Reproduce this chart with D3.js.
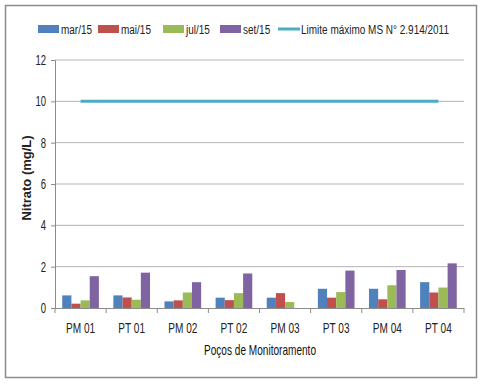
<!DOCTYPE html>
<html>
<head>
<meta charset="utf-8">
<script src="https://cdn.jsdelivr.net/npm/d3@7"></script>
<style>
  body { margin: 0; background: #fff; }
  text { font-family: "Liberation Sans", Arial, sans-serif; fill: #222; }
</style>
</head>
<body>
<div id="chart"></div>
<script>
var categories = ["PM 01", "PT 01", "PM 02", "PT 02", "PM 03", "PT 03", "PM 04", "PT 04"];
var seriesNames = ["mar/15", "mai/15", "jul/15", "set/15"];
var mar15 = [0.61, 0.61, 0.32, 0.50, 0.50, 0.93, 0.93, 1.25];
var mai15 = [0.21, 0.51, 0.37, 0.38, 0.72, 0.50, 0.42, 0.75];
var jul15 = [0.37, 0.40, 0.75, 0.72, 0.29, 0.77, 1.10, 0.99];
var set15 = [1.54, 1.71, 1.25, 1.67, 0, 1.81, 1.84, 2.16];
var limitName = "Limite máximo MS N° 2.914/2011";
var limitValue = 10;
var yTicks = [0, 2, 4, 6, 8, 10, 12];

var colors = ["#4F81BD", "#C0504D", "#9BBB59", "#8064A2"];
var limitColor = "#4BACC6";

var svgWidth = 487;
var svgHeight = 385;
var margin = { top: 60, right: 23, bottom: 77, left: 55 };
var width = 464 - margin.left;
var height = 308 - margin.top;

// the original uses a narrow font: squeeze texts with a horizontal scale
function narrowText(parent, x, y, str, factor) {
  return parent.append("text")
    .attr("transform", `translate(${x}, ${y}) scale(${factor}, 1)`)
    .text(str);
}

var svg = d3.select("#chart")
  .append("svg")
  .attr("width", svgWidth)
  .attr("height", svgHeight);

// outer frame
svg.append("rect")
  .attr("x", 5.5).attr("y", 5.5)
  .attr("width", 471).attr("height", 372)
  .attr("fill", "#fff")
  .attr("stroke", "#8c8c8c")
  .attr("stroke-width", 1.5);

var chartGroup = svg.append("g")
  .attr("transform", `translate(${margin.left}, ${margin.top})`);

var xScale = d3.scaleBand()
  .domain(categories)
  .range([0, width])
  .paddingInner(0.283)
  .paddingOuter(0.1415);

var xSub = d3.scaleBand()
  .domain(seriesNames)
  .range([0, xScale.bandwidth()]);

var yScale = d3.scaleLinear()
  .domain([0, 12])
  .range([height, 0]);

// gridlines
chartGroup.selectAll(".grid")
  .data(yTicks.filter(d => d > 0))
  .enter()
  .append("line")
  .attr("x1", 0).attr("x2", width)
  .attr("y1", d => yScale(d)).attr("y2", d => yScale(d))
  .attr("stroke", "#b3b3b3")
  .attr("stroke-width", 1);

// y axis
var leftAxis = d3.axisLeft(yScale).tickValues(yTicks).tickSize(4).tickFormat("");
var yAxisG = chartGroup.append("g").call(leftAxis);
yAxisG.select(".domain").attr("stroke", "#8c8c8c");
yAxisG.selectAll(".tick line").attr("stroke", "#8c8c8c");
yTicks.forEach(function(t) {
  narrowText(chartGroup, -9, yScale(t) + 5, String(t), 0.68)
    .attr("text-anchor", "end")
    .attr("font-size", "14px");
});

// bars
var allSeries = [mar15, mai15, jul15, set15];
var barData = [];
categories.forEach(function(c, i) {
  seriesNames.forEach(function(s, j) {
    barData.push({ cat: c, series: s, value: allSeries[j][i], color: colors[j] });
  });
});

chartGroup.selectAll(".bar")
  .data(barData)
  .enter()
  .append("rect")
  .attr("x", d => xScale(d.cat) + xSub(d.series))
  .attr("y", d => yScale(d.value))
  .attr("width", xSub.bandwidth())
  .attr("height", d => height - yScale(d.value))
  .attr("fill", d => d.color);

// x axis with ticks at category boundaries
var xAxisG = chartGroup.append("g")
  .attr("transform", `translate(0, ${height})`);
xAxisG.append("line")
  .attr("x1", 0).attr("x2", width)
  .attr("y1", 0.5).attr("y2", 0.5)
  .attr("stroke", "#8c8c8c");
var step = xScale.step();
d3.range(categories.length + 1).forEach(function(i) {
  xAxisG.append("line")
    .attr("x1", i * step).attr("x2", i * step)
    .attr("y1", 0).attr("y2", 5)
    .attr("stroke", "#8c8c8c");
});
categories.forEach(function(c) {
  narrowText(xAxisG, xScale(c) + xScale.bandwidth() / 2, 25, c, 0.72)
    .attr("text-anchor", "middle")
    .attr("font-size", "14px");
});

// limit line from first to last category centre
chartGroup.append("line")
  .attr("x1", xScale(categories[0]) + xScale.bandwidth() / 2)
  .attr("x2", xScale(categories[categories.length - 1]) + xScale.bandwidth() / 2)
  .attr("y1", yScale(limitValue))
  .attr("y2", yScale(limitValue))
  .attr("stroke", limitColor)
  .attr("stroke-width", 3);

// axis titles
chartGroup.append("text")
  .attr("transform", `translate(-24, ${178 - margin.top}) rotate(-90)`)
  .attr("text-anchor", "middle")
  .attr("font-size", "13px")
  .attr("font-weight", "bold")
  .text("Nitrato (mg/L)");

narrowText(chartGroup, 260 - margin.left, height + 47, "Poços de Monitoramento", 0.72)
  .attr("text-anchor", "middle")
  .attr("font-size", "14px")
  .style("fill", "#111");

// legend
var legendItems = [
  { name: seriesNames[0], color: colors[0], x: 38, type: "rect" },
  { name: seriesNames[1], color: colors[1], x: 98, type: "rect" },
  { name: seriesNames[2], color: colors[2], x: 163, type: "rect" },
  { name: seriesNames[3], color: colors[3], x: 220, type: "rect" },
  { name: limitName, color: limitColor, x: 278, type: "line" }
];
var legend = svg.append("g").attr("transform", "translate(0, 29)");
legendItems.forEach(function(d) {
  if (d.type === "rect") {
    legend.append("rect")
      .attr("x", d.x).attr("y", -4)
      .attr("width", 21).attr("height", 8)
      .attr("fill", d.color);
  } else {
    legend.append("line")
      .attr("x1", d.x).attr("x2", d.x + 22)
      .attr("y1", 0).attr("y2", 0)
      .attr("stroke", d.color)
      .attr("stroke-width", 3);
  }
  narrowText(legend, d.x + 23, 5, d.name, 0.74)
    .attr("font-size", "13.5px");
});
</script>
</body>
</html>
